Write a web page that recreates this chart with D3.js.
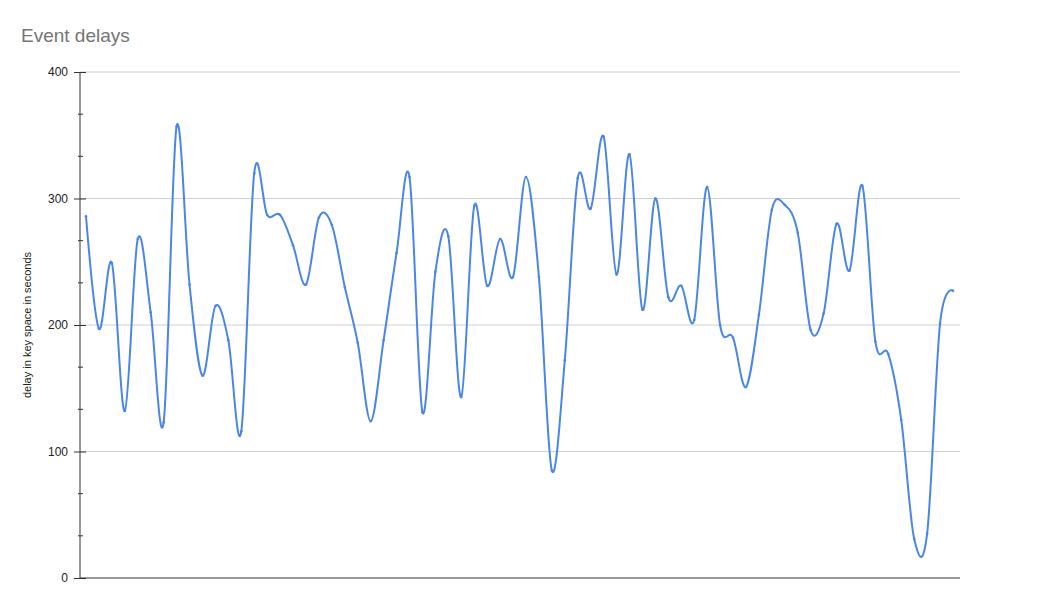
<!DOCTYPE html>
<html>
<head>
<meta charset="utf-8">
<script src="https://cdn.jsdelivr.net/npm/d3@7/dist/d3.min.js"></script>
<style>
  html, body { margin: 0; padding: 0; background: #fff; }
  svg { display: block; font-family: Arial, "Liberation Sans", sans-serif; }
</style>
</head>
<body>
<svg id="chart" width="1058" height="602"></svg>
<script>
const title = "Event delays";
const yAxisTitle = "delay in key space in seconds";
const yTicks = [0, 100, 200, 300, 400];
const delays = [
  286, 197, 249, 132, 268, 210, 123, 357, 232, 160,
  215, 188, 116, 320, 287, 287, 263, 232, 285, 279,
  230, 186, 124, 188, 257, 317, 131, 242, 270, 143,
  294, 231, 268, 238, 317, 238, 85, 172, 316, 292,
  349, 240, 335, 212, 300, 222, 231, 204, 309, 200,
  190, 151, 208, 291, 295, 273, 196, 209, 280, 243,
  310, 187, 177, 125, 31, 35, 201, 227
];

(function () {
const svg = d3.select("#chart");
const mLeft = 80, mRight = 960, mTop = 72, mBottom = 578;

const x = d3.scaleLinear().domain([0, delays.length - 1]).range([86, 953]);
const y = d3.scaleLinear().domain([0, 400]).range([mBottom, mTop]);

// title
svg.append("text")
  .attr("x", 21).attr("y", 42)
  .attr("font-size", 19)
  .attr("fill", "#757575")
  .text(title);

// gridlines
svg.append("g").selectAll("line")
  .data(yTicks.filter(d => d > 0))
  .join("line")
  .attr("x1", mLeft).attr("x2", mRight)
  .attr("y1", d => y(d)).attr("y2", d => y(d))
  .attr("stroke", "#d0d0d0").attr("stroke-width", 1);

// minor ticks (thirds)
const minor = [];
for (let v = 0; v < 400; v += 100) { minor.push(v + 100/3, v + 200/3); }
svg.append("g").selectAll("line")
  .data(minor)
  .join("line")
  .attr("x1", 78).attr("x2", 83)
  .attr("y1", d => y(d)).attr("y2", d => y(d))
  .attr("stroke", "#333").attr("stroke-width", 1);

// y axis
const yAxis = d3.axisLeft(y).tickValues(yTicks).tickSize(6).tickPadding(6);
const gy = svg.append("g").attr("transform", `translate(${mLeft},0)`).call(yAxis);
gy.select(".domain").remove();
gy.selectAll(".tick line").attr("x2", 6).attr("x1", -6).attr("stroke", "#333");
gy.selectAll(".tick text").attr("font-size", 12).attr("fill", "#222")
  .attr("font-family", "Arial, 'Liberation Sans', sans-serif");
svg.append("line")
  .attr("x1", mLeft).attr("x2", mLeft).attr("y1", mTop).attr("y2", mBottom)
  .attr("stroke", "#333").attr("stroke-width", 1);

// x axis baseline
svg.append("line")
  .attr("x1", mLeft).attr("x2", mRight).attr("y1", mBottom).attr("y2", mBottom)
  .attr("stroke", "#333").attr("stroke-width", 1);

// y axis title
svg.append("text")
  .attr("transform", `translate(31,${(mTop + mBottom) / 2}) rotate(-90)`)
  .attr("text-anchor", "middle")
  .attr("font-size", 11)
  .attr("fill", "#222")
  .text(yAxisTitle);

// line
const line = d3.line()
  .x((d, i) => x(i))
  .y(d => y(d))
  .curve(d3.curveCardinal.tension(0));

svg.append("path")
  .datum(delays)
  .attr("d", line)
  .attr("fill", "none")
  .attr("stroke", "#4a86e8")
  .attr("stroke-width", 2);

svg.append("g").selectAll("circle")
  .data(delays)
  .join("circle")
  .attr("cx", (d, i) => x(i))
  .attr("cy", d => y(d))
  .attr("r", 1.3)
  .attr("fill", "#4a86e8");
})();
</script>
</body>
</html>
